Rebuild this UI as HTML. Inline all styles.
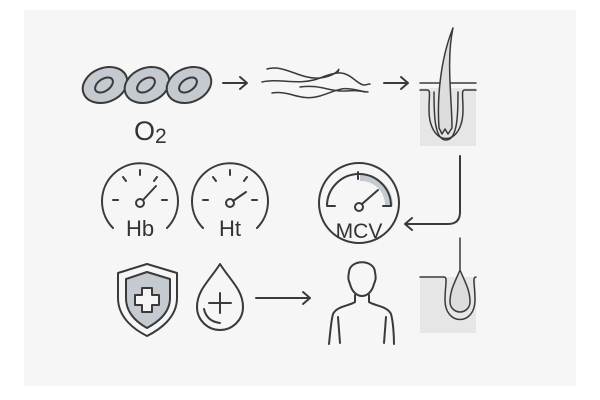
<!DOCTYPE html>
<html><head><style>
html,body{margin:0;padding:0;background:#fff;}
svg{display:block;}
text{font-family:"Liberation Sans",sans-serif;fill:#333;}
</style></head><body>
<svg width="600" height="400" viewBox="0 0 600 400">
<rect x="24" y="10" width="552" height="376" fill="#f6f6f6"/>
<g stroke="#3a3a3a" stroke-width="2" fill="none" stroke-linecap="round" stroke-linejoin="round">
<g fill="#c5c9d0">
<ellipse cx="105" cy="85" rx="23" ry="17" transform="rotate(-22 105 85)"/>
<ellipse cx="147" cy="85" rx="23" ry="17" transform="rotate(-22 147 85)"/>
<ellipse cx="189" cy="85" rx="23" ry="17" transform="rotate(-22 189 85)"/>
</g>
<ellipse cx="104" cy="85" rx="10" ry="6" transform="rotate(-35 104 85)"/>
<ellipse cx="146" cy="85" rx="10" ry="6" transform="rotate(-35 146 85)"/>
<ellipse cx="188" cy="85" rx="10" ry="6" transform="rotate(-35 188 85)"/>
<path d="M223 83H247M240 77L247 83L240 89"/>
<path d="M384 83H408M401 77L408 83L401 89"/>
<path stroke-width="1.5" d="M267 69C285 64,300 80,320 78S340 64,338 72"/>
<path stroke-width="1.5" d="M262 82C280 78,300 86,320 78S345 72,355 80S365 84,370 84"/>
<path stroke-width="1.5" d="M272 93C290 90,300 102,320 96S340 85,365 92"/>
<path stroke-width="1.5" d="M300 87C320 84,330 92,345 91S355 91,368 92"/>
<rect x="420" y="88" width="56" height="58" fill="#e6e6e6" stroke="none"/>
<path stroke-width="1.5" d="M420 83H476M420 90H427C431 90,429 95,429 110C429 148,463 148,463 110C463 95,461 90,465 90H476"/>
<path stroke-width="1.5" d="M434 92C434 112,434 140,446 140S458 112,458 92"/>
<path stroke-width="1.5" fill="#ddd" d="M439 128C437 100,440 60,453 28C446 60,452 100,452 128L448 134L445 129L442 134Z"/>
<path d="M460 156V212Q460 224,448 224H405M412 218L405 224L412 230"/>
<path d="M113 228A38 38 0 1 1 167 228"/>
<path d="M140 170V175M123 177L126 181M157 177L154 181M113 200H118M162 200H167"/>
<circle cx="140" cy="203" r="4"/><path d="M143 200L156 186"/>
<path d="M203 228A38 38 0 1 1 257 228"/>
<path d="M230 170V175M213 177L216 181M247 177L244 181M203 200H208M252 200H257"/>
<circle cx="230" cy="203" r="4"/><path d="M233 201L246 192"/>
<circle cx="359" cy="203" r="40"/>
<path d="M360 174A32 32 0 0 1 393 206H385A24 24 0 0 0 360 181Z" fill="#c5c9d0" stroke="none"/>
<path d="M327 206A32 32 0 0 1 391 206M327 206H335M383 206H391M358 172V179"/>
<circle cx="359" cy="207" r="4"/><path d="M362 204L378 190"/>
<path d="M147 264L118 273V298C118 318,135 330,147 336C159 330,177 318,177 298V273Z"/>
<path d="M147 272L126 279V298C126 314,138 323,147 328C156 323,170 314,170 298V279Z" fill="#c5c9d0"/>
<path d="M142 288H152V295H159V305H152V312H142V305H135V295H142Z" fill="#f5f5f5"/>
<path d="M220 264C210 280,197 290,197 307A23 23 0 0 0 243 307C243 290,230 280,220 264Z"/>
<path d="M220 293V313M209 303H231"/>
<path d="M204 309C206 318,212 322,220 323"/>
<path d="M256 298H310M303 292L310 298L303 304"/>
<path d="M349 272C350 259,374 259,375 272C376 278,376 279,374 284C372 292,367 296,362 296S352 292,350 284C348 279,348 278,349 272Z"/>
<path d="M355 295V302C349 306,337 306,333 314C331 321,330 335,329 344M369 295V302C375 306,387 306,391 314C393 321,394 335,394 344"/>
<path d="M338 317L340 343M386 317L384 343"/>
<rect x="420" y="277" width="56" height="56" fill="#e6e6e6" stroke="none"/>
<path stroke-width="1.5" d="M420 277H444C448 277,445 285,445 300C445 326,475 326,475 300C475 285,472 277,476 277"/>
<path stroke-width="1.5" fill="#ddd" d="M460 238V270C455 282,450 290,450 302A10 10 0 0 0 470 302C470 290,465 282,460 270"/>
</g>
<text x="134" y="140" font-size="27">O<tspan font-size="21" dy="3">2</tspan></text>
<text x="140" y="236" font-size="22" text-anchor="middle">Hb</text>
<text x="230" y="236" font-size="22" text-anchor="middle">Ht</text>
<text x="359" y="238" font-size="21" text-anchor="middle">MCV</text>
</svg>
</body></html>
